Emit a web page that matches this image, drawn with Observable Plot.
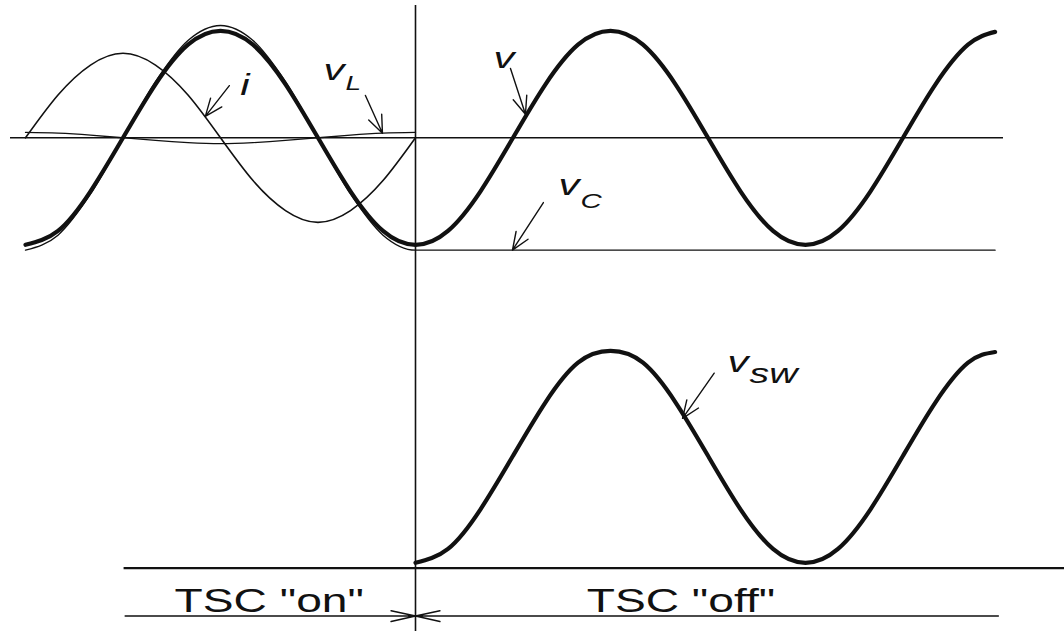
<!DOCTYPE html>
<html>
<head>
<meta charset="utf-8">
<script src="https://cdn.jsdelivr.net/npm/d3@7"></script>
<script src="https://cdn.jsdelivr.net/npm/@observablehq/plot@0.6"></script>
<style>
  html, body { margin: 0; padding: 0; background: #fff; }
  #chart svg { display: block; }
</style>
</head>
<body>
<div id="chart"></div>
<script>
// Phase angle in degrees, measured from the instant the TSC is switched off.
const tOn  = [-360, -330, -300, -270, -240, -210, -180, -150, -120, -90, -60, -30, 0];
const tOff = [0, 30, 60, 90, 120, 150, 180, 210, 240, 270, 300, 330, 360, 390, 420, 450, 480, 510, 535];

// Per-unit waveforms while the thyristor switched capacitor conducts.
const vOn  = [-1, -0.87, -0.5, 0, 0.5, 0.87, 1, 0.87, 0.5, 0, -0.5, -0.87, -1];
const iOn  = [0, 0.4, 0.68, 0.79, 0.68, 0.4, 0, -0.4, -0.68, -0.79, -0.68, -0.4, 0];
const vLOn = [0.05, 0.043, 0.025, 0, -0.025, -0.045, -0.055, -0.045, -0.025, 0, 0.025, 0.043, 0.05];
const vCOn = [-1.05, -0.91, -0.525, 0, 0.525, 0.91, 1.05, 0.91, 0.525, 0, -0.525, -0.91, -1.05];

// After turn-off: the capacitor holds its charge, the switch sees v - vC.
const vOff   = [-1, -0.87, -0.5, 0, 0.5, 0.87, 1, 0.87, 0.5, 0, -0.5, -0.87, -1, -0.87, -0.5, 0, 0.5, 0.87, 0.99];
const vswOff = [0.05, 0.18, 0.55, 1.05, 1.55, 1.92, 2.03, 1.92, 1.55, 1.05, 0.55, 0.18, 0.05, 0.18, 0.55, 1.05, 1.55, 1.92, 2.02];
const vCHeld = -1.05;

// Curve callouts: symbol, subscript, panel, and the point the arrow touches.
const calloutName  = ["i", "v", "v", "v", "v"];
const calloutSub   = ["", "L", "", "C", "sw"];
const calloutPanel = ["upper", "upper", "upper", "upper", "lower"];
const calloutT     = [-194, -30.5, 101.5, 89.5, 246.5];
const calloutValue = [0.2, 0.043, 0.22, -1.05, 1.40];

// Conduction intervals on the time line.
const phaseLabel  = ['TSC "on"', 'TSC "off"'];
const phaseFrom   = [-268, 538];
const phaseLabelT = [-135, 245];

// ---- layout ----
const LOWER = -4.022;    // vertical offset of the v_sw trace (per unit)
const TIMELINE = -4.47;  // level of the on/off time line (per unit)
const INK = "#111";
const STRETCH = 1.4;     // horizontal stretch applied to lettering

const calloutStyle = [
  {len: 39,   rot: 218,   dx: 35,  dy: -21},
  {len: 41.4, rot: 155.7, dx: -59, dy: -52.7, sdx: -37, sdy: -42.7, subSize: 20},
  {len: 48.2, rot: 161.9, dx: -32, dy: -45.8},
  {len: 56.8, rot: 213,   dx: 46,  dy: -54.7, sdx: 68,  sdy: -41.7, subSize: 21},
  {len: 55.2, rot: 215,   dx: 45,  dy: -46,   sdx: 67,  sdy: -35,   subSize: 28}
];

const onRows  = tOn.map((t, k) => ({t, v: vOn[k], i: iOn[k], vL: vLOn[k], vC: vCOn[k]}));
const offRows = tOff.map((t, k) => ({t, v: vOff[k], vsw: vswOff[k] + LOWER, vC: vCHeld}));
// v and vC are continuous through the switching instant
const fullRows = [...onRows, ...offRows.slice(1)];

const callouts = calloutName.map((name, k) => ({
  name, sub: calloutSub[k], t: calloutT[k],
  y: calloutValue[k] + (calloutPanel[k] === "lower" ? LOWER : 0)
}));
const phases = phaseLabel.map((label, k) => ({label, from: phaseFrom[k], to: 0, at: phaseLabelT[k]}));

// Open arrowhead with long wings, drawn pointing up from the origin.
const openArrow = {
  draw(context, l) {
    const w = 19, a = 22 * Math.PI / 180;
    context.moveTo(0, 0);
    context.lineTo(0, -l);
    context.moveTo(-w * Math.sin(a), -l + w * Math.cos(a));
    context.lineTo(0, -l);
    context.lineTo(w * Math.sin(a), -l + w * Math.cos(a));
  }
};

const thin = {stroke: INK, strokeWidth: 1.4, curve: "natural"};
const thick = {stroke: INK, strokeWidth: 4.2, curve: "natural", strokeLinecap: "round"};
const labelFont = {fontFamily: "Liberation Sans", fontStyle: "italic", fill: INK, textAnchor: "start", lineAnchor: "bottom"};

const calloutMarks = callouts.flatMap((c, k) => {
  const s = calloutStyle[k];
  const marks = [
    Plot.vector([c], {x: "t", y: "y", length: s.len, rotate: s.rot, anchor: "end",
      shape: openArrow, stroke: INK, strokeWidth: 1.4}),
    Plot.text([c], {x: "t", y: "y", text: "name", dx: s.dx, dy: s.dy, fontSize: 30, ...labelFont})
  ];
  if (c.sub) {
    marks.push(Plot.text([c], {x: "t", y: "y", text: "sub", dx: s.sdx, dy: s.sdy, fontSize: s.subSize, ...labelFont}));
  }
  return marks;
});

const chart = Plot.plot({
  width: 1064,
  height: 631,
  marginTop: 5,
  marginBottom: 0,
  marginLeft: 10,
  marginRight: 61,
  style: {background: "#fff", color: INK},
  x: {domain: [-360, 540], range: [25, 1000], axis: null},
  y: {domain: [-1, 1], range: [244.3, 30.3], axis: null},
  marks: [
    // reference lines
    Plot.ruleY([0], {stroke: INK, strokeWidth: 1.5}),
    Plot.ruleX([0], {stroke: INK, strokeWidth: 1.6}),
    Plot.ruleY([LOWER], {x1: -269, x2: 600, stroke: INK, strokeWidth: 2.4}),

    // capacitor voltage: follows the supply, then held at the last peak
    Plot.line(fullRows, {x: "t", y: "vC", ...thin, curve: "monotone-x"}),
    // reactor voltage and current while conducting
    Plot.line(onRows, {x: "t", y: "vL", ...thin, strokeWidth: 1.3}),
    Plot.line(onRows, {x: "t", y: "i", ...thin, strokeWidth: 1.6}),
    // supply voltage
    Plot.line(fullRows, {x: "t", y: "v", ...thick}),
    // voltage across the blocked switch
    Plot.line(offRows, {x: "t", y: "vsw", ...thick}),

    // callouts
    ...calloutMarks,

    // on/off time line
    Plot.arrow(phases, {x1: "from", x2: "to", y: TIMELINE, stroke: INK, strokeWidth: 1.5,
      headLength: 25, headAngle: 25}),
    Plot.text(phases, {x: "at", y: TIMELINE, text: "label", dy: -4, fontSize: 33,
      fontFamily: "Liberation Sans", fill: INK, textAnchor: "middle", lineAnchor: "bottom"})
  ]
});

// Widen the lettering horizontally around each label's anchor point.
chart.querySelectorAll("text").forEach((el) => {
  let tr = el.getAttribute("transform");
  if (!tr) {
    const x = el.getAttribute("x") || 0, y = el.getAttribute("y") || 0;
    el.removeAttribute("x"); el.removeAttribute("y");
    tr = `translate(${x},${y})`;
  }
  el.setAttribute("transform", `${tr} scale(${STRETCH},1)`);
});

document.getElementById("chart").appendChild(chart);
</script>
</body>
</html>
